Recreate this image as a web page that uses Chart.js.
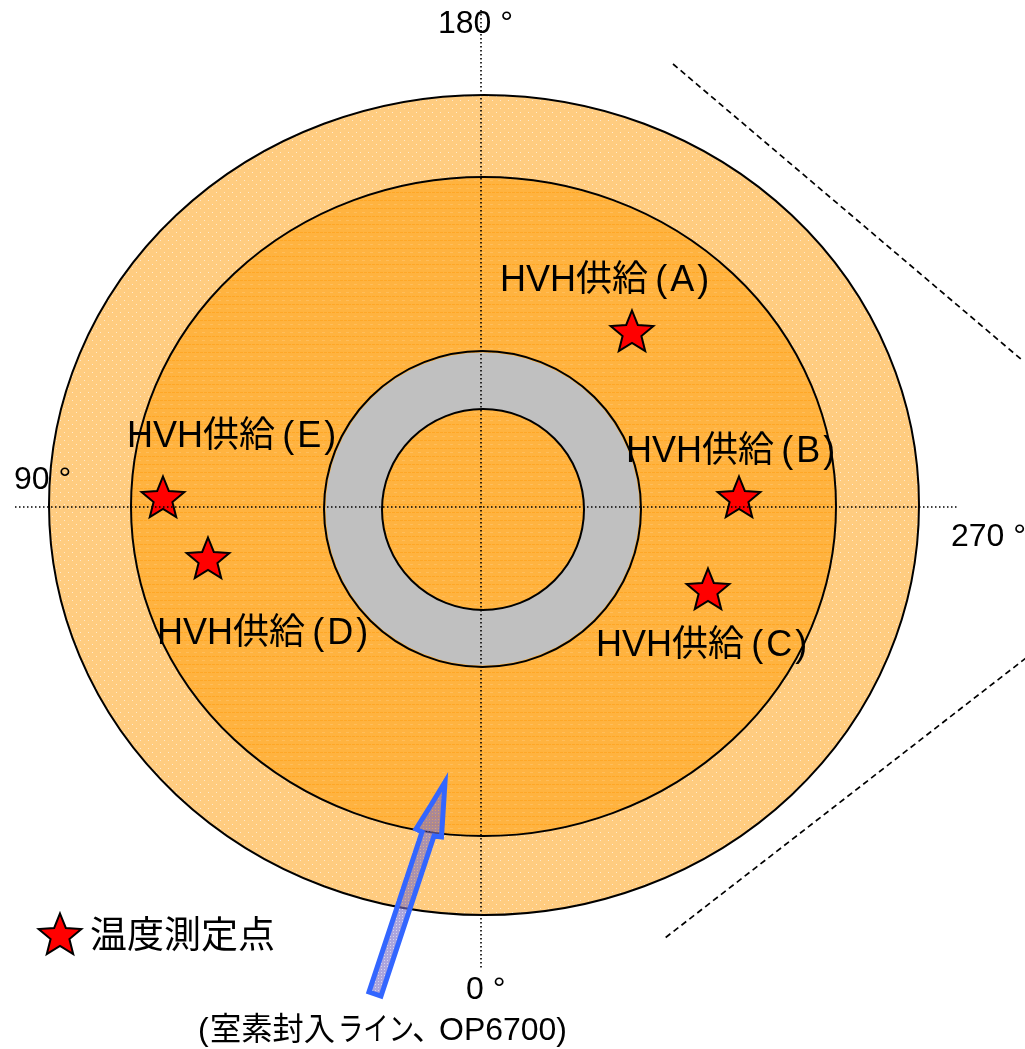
<!DOCTYPE html>
<html>
<head>
<meta charset="utf-8">
<title>温度測定点</title>
<script src="https://cdn.jsdelivr.net/npm/chart.js@4"></script>
<style>
  html, body { margin: 0; padding: 0; background: #fff; }
  #wrap { width: 1025px; height: 1049px; }
</style>
</head>
<body>
<div id="wrap"><canvas id="chart" width="1025" height="1049"></canvas></div>
<script>
// rings, outer to inner
const ringNames = ['outer', 'heater', 'grayOuter', 'grayInner'];
const ringX = [484, 483.5, 482.5, 483];
const ringY = [505, 506.5, 509, 509.5];
const ringRx = [435, 352.5, 158.5, 101];
const ringRy = [410, 329.5, 158, 100.5];
const ringInset = [0, 0, 1.5, 0];

// temperature points
const starX = [632, 739, 708, 208, 163, 60];
const starY = [333, 499, 591, 560, 499, 936];

// guide lines
const crossVX = [481, 481];
const crossVY = [10, 968];
const crossHX = [15, 958];
const crossHY = [507, 507];
const dashUpperX = [673, 1022];
const dashUpperY = [64, 360];
const dashLowerX = [1026, 665];
const dashLowerY = [658, 938];

// nitrogen line arrow outline, starts mid edge so the tip gets a mitre join
const arrowX = [431, 416, 422, 369, 381, 434, 441.5, 445, 431];
const arrowY = [805, 829, 832, 992, 996, 836, 837, 782, 805];

// text
const labelText = ['HVH供給\u2009(\u200aA\u200a)', 'HVH供給\u2009(\u200aB\u200a)', 'HVH供給\u2009(\u200aC\u200a)', 'HVH供給\u2009(\u200aD\u200a)', 'HVH供給\u2009(\u200aE\u200a)'];
const labelX = [500, 626, 596, 157, 127];
const labelY = [291, 462, 656, 644, 447];
const angleText = ['180 °', '90 °', '270 °', '0 °'];
const angleX = [438, 14, 951, 466];
const angleY = [33, 489, 546, 999];
const legendText = '温度測定点';
const lineParts = ['(', '室素封入', 'ライン', '、', 'OP6700)'];
const linePartX = [198, 210, 338, 412, 439];
const linePartW = [11, 125, 76, 32, 128];

const FONT = '"Liberation Sans", "Noto Sans CJK JP", sans-serif';

function makeTile(w, h, base, draw) {
  const c = document.createElement('canvas');
  c.width = w; c.height = h;
  const g = c.getContext('2d');
  g.fillStyle = base;
  g.fillRect(0, 0, w, h);
  draw(g);
  return document.createElement('canvas').getContext('2d').createPattern(c, 'repeat');
}

const outerFill = makeTile(8, 8, '#FFCC80', g => {
  g.fillStyle = '#FFEBCD';
  g.fillRect(0, 0, 1, 1);
  g.fillRect(4, 4, 1, 1);
});
const heaterFill = makeTile(8, 8, '#FFB340', g => {
  g.fillStyle = '#FFA726';
  g.fillRect(0, 0, 3, 1);
  g.fillRect(4, 0, 3, 1);
  g.fillStyle = '#FFBE5C';
  g.fillRect(2, 4, 3, 1);
});
const arrowFill = makeTile(3, 3, 'rgba(120,110,200,0.62)', g => {
  g.clearRect(0, 0, 1, 1);
  g.fillStyle = 'rgba(120,110,200,0.3)';
  g.fillRect(0, 0, 1, 1);
});
const ringFill = [outerFill, heaterFill, '#C0C0C0', heaterFill];

function makeStar(r) {
  const size = 60;
  const c = document.createElement('canvas');
  c.width = size; c.height = size;
  const g = c.getContext('2d');
  g.beginPath();
  for (let i = 0; i < 10; i++) {
    const rad = i % 2 ? r * 0.44 : r;
    const a = -Math.PI / 2 + i * Math.PI / 5;
    g.lineTo(size / 2 + rad * Math.cos(a), size / 2 + rad * Math.sin(a));
  }
  g.closePath();
  g.fillStyle = '#FF0000';
  g.fill();
  g.lineWidth = 2;
  g.lineJoin = 'miter';
  g.strokeStyle = '#000';
  g.stroke();
  return c;
}

function toPoints(xs, ys) {
  return xs.map((x, i) => ({ x, y: ys[i] }));
}

function guide(xs, ys, dash, width) {
  return {
    data: toPoints(xs, ys), showLine: true, pointRadius: 0,
    borderColor: '#000', borderWidth: width, borderDash: dash, fill: false
  };
}

// rings sit under the datasets, text sits on top of them
const ringsPlugin = {
  id: 'rings',
  beforeDatasetsDraw(chart) {
    const { ctx, scales: { x, y } } = chart;
    ctx.save();
    ringNames.forEach((name, i) => {
      const cx = x.getPixelForValue(ringX[i]);
      const cy = y.getPixelForValue(ringY[i]);
      const rx = Math.abs(x.getPixelForValue(ringX[i] + ringRx[i]) - cx);
      const ry = Math.abs(y.getPixelForValue(ringY[i] + ringRy[i]) - cy);
      ctx.beginPath();
      ctx.ellipse(cx, cy, rx - ringInset[i], ry - ringInset[i], 0, 0, Math.PI * 2);
      ctx.fillStyle = ringFill[i];
      ctx.fill();
      ctx.beginPath();
      ctx.ellipse(cx, cy, rx, ry, 0, 0, Math.PI * 2);
      ctx.lineWidth = 2;
      ctx.strokeStyle = '#000';
      ctx.stroke();
    });
    ctx.restore();
  }
};

const textPlugin = {
  id: 'texts',
  afterDatasetsDraw(chart) {
    const { ctx, scales: { x, y } } = chart;
    const put = (str, px, py, w) => ctx.fillText(str, x.getPixelForValue(px), y.getPixelForValue(py), w);
    ctx.save();
    ctx.fillStyle = '#000';
    ctx.textAlign = 'left';
    ctx.textBaseline = 'alphabetic';
    ctx.font = '36px ' + FONT;
    labelText.forEach((t, i) => put(t, labelX[i], labelY[i]));
    ctx.font = '32px ' + FONT;
    angleText.forEach((t, i) => put(t, angleX[i], angleY[i]));
    lineParts.forEach((t, i) => put(t, linePartX[i], 1040, linePartW[i]));
    ctx.font = '37px ' + FONT;
    put(legendText, 90, 948);
    ctx.restore();
  }
};

new Chart(document.getElementById('chart'), {
  type: 'scatter',
  data: {
    datasets: [
      guide(crossVX, crossVY, [1.5, 2.5], 1.6),
      guide(crossHX, crossHY, [1.5, 2.5], 1.6),
      guide(dashUpperX, dashUpperY, [6, 4], 1.7),
      guide(dashLowerX, dashLowerY, [6, 4], 1.7),
      {
        data: toPoints(arrowX, arrowY), showLine: true, pointRadius: 0,
        borderColor: '#3366FF', borderWidth: 5, borderJoinStyle: 'miter',
        backgroundColor: arrowFill, fill: 'shape'
      },
      {
        data: toPoints(starX, starY), pointStyle: makeStar(22.5), pointRadius: 23, showLine: false
      }
    ]
  },
  plugins: [ringsPlugin, textPlugin],
  options: {
    responsive: false,
    animation: false,
    layout: { padding: 0, autoPadding: false },
    plugins: { legend: { display: false }, tooltip: { enabled: false } },
    scales: {
      x: { type: 'linear', min: 0, max: 1025, display: false },
      y: { type: 'linear', min: 0, max: 1049, reverse: true, display: false }
    }
  }
});
</script>
</body>
</html>
